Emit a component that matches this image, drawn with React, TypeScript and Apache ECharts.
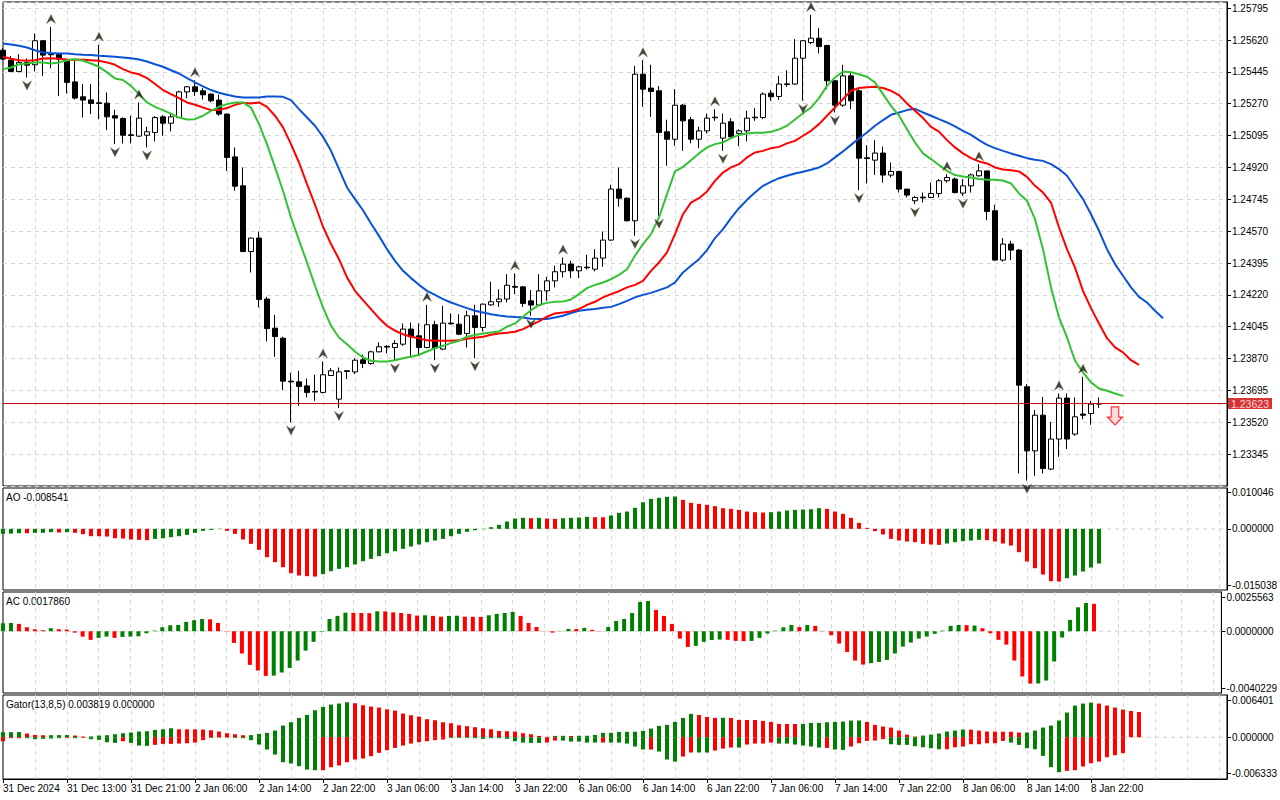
import React, { useEffect, useRef } from 'react';
import * as echarts from 'echarts';

const FONT = '"Liberation Sans", Arial, sans-serif';
const X_LABELS = ['31 Dec 2024', '31 Dec 13:00', '31 Dec 21:00', '2 Jan 06:00', '2 Jan 14:00', '2 Jan 22:00', '3 Jan 06:00', '3 Jan 14:00', '3 Jan 22:00', '6 Jan 06:00', '6 Jan 14:00', '6 Jan 22:00', '7 Jan 06:00', '7 Jan 14:00', '7 Jan 22:00', '8 Jan 06:00', '8 Jan 14:00', '8 Jan 22:00'];
const LABEL_STEP = 8;
const GRID_STEP = 4;
const SLOT_COUNT = 154;

const OPEN = [
  1.25564, 1.25509, 1.25447, 1.25497, 1.25484, 1.25616, 1.25542, 1.25540, 1.25506, 1.25390,
  1.25308, 1.25291, 1.25275, 1.25273, 1.25204, 1.25189, 1.25099, 1.25092, 1.25097, 1.25112,
  1.25198, 1.25163, 1.25194, 1.25335, 1.25363, 1.25341, 1.25323, 1.25290, 1.25213, 1.24978,
  1.24819, 1.24458, 1.24532, 1.24197, 1.24037, 1.23982, 1.23746, 1.23742, 1.23720, 1.23689,
  1.23684, 1.23777, 1.23647, 1.23803, 1.23797, 1.23863, 1.23843, 1.23907, 1.23937, 1.23931,
  1.23949, 1.24032, 1.23995, 1.23931, 1.24056, 1.23922, 1.24065, 1.24059, 1.24008, 1.24105,
  1.24041, 1.24165, 1.24182, 1.24197, 1.24266, 1.24264, 1.24187, 1.24164, 1.24242, 1.24297,
  1.24347, 1.24389, 1.24352, 1.24372, 1.24361, 1.24422, 1.24521, 1.24801, 1.24751, 1.24627,
  1.25432, 1.25356, 1.25341, 1.25116, 1.25075, 1.25262, 1.25182, 1.25075, 1.25121, 1.25196,
  1.25081, 1.25171, 1.25107, 1.25121, 1.25196, 1.25194, 1.25328, 1.25310, 1.25379, 1.25378,
  1.25520, 1.25606, 1.25630, 1.25590, 1.25396, 1.25262, 1.25423, 1.25341, 1.24973, 1.24960,
  1.24999, 1.24878, 1.24898, 1.24801, 1.24737, 1.24757, 1.24755, 1.24777, 1.24847, 1.24856,
  1.24779, 1.24819, 1.24874, 1.24901, 1.24682, 1.24411, 1.24499, 1.24466, 1.23715, 1.23363,
  1.23559, 1.23263, 1.23428, 1.23653, 1.23455, 1.23565, 1.23568, 1.23620,
];
const HIGH = [
  1.25575, 1.25533, 1.25542, 1.25519, 1.25656, 1.25619, 1.25692, 1.25548, 1.25509, 1.25506,
  1.25378, 1.25378, 1.25594, 1.25332, 1.25237, 1.25195, 1.25204, 1.25277, 1.25143, 1.25202,
  1.25207, 1.25216, 1.25341, 1.25368, 1.25399, 1.25356, 1.25326, 1.25319, 1.25216, 1.25030,
  1.24920, 1.24535, 1.24568, 1.24209, 1.24110, 1.23990, 1.23792, 1.23803, 1.23761, 1.23781,
  1.23854, 1.23818, 1.23821, 1.23807, 1.23872, 1.23891, 1.23913, 1.23959, 1.23944, 1.23971,
  1.24063, 1.24068, 1.24063, 1.24165, 1.24078, 1.24160, 1.24118, 1.24114, 1.24132, 1.24165,
  1.24173, 1.24292, 1.24251, 1.24334, 1.24338, 1.24268, 1.24246, 1.24334, 1.24319, 1.24380,
  1.24425, 1.24407, 1.24380, 1.24440, 1.24471, 1.24568, 1.24825, 1.24920, 1.24755, 1.25478,
  1.25509, 1.25484, 1.25367, 1.25182, 1.25350, 1.25268, 1.25198, 1.25143, 1.25216, 1.25240,
  1.25216, 1.25191, 1.25130, 1.25231, 1.25246, 1.25332, 1.25345, 1.25423, 1.25454, 1.25625,
  1.25619, 1.25758, 1.25685, 1.25594, 1.25399, 1.25484, 1.25442, 1.25356, 1.25042, 1.25070,
  1.25035, 1.24947, 1.24901, 1.24801, 1.24764, 1.24782, 1.24837, 1.24856, 1.24883, 1.24865,
  1.24856, 1.24887, 1.24938, 1.24901, 1.24715, 1.24532, 1.24517, 1.24471, 1.23730, 1.23587,
  1.23660, 1.23523, 1.23678, 1.23678, 1.23656, 1.23770, 1.23638, 1.23656,
];
const LOW = [
  1.25509, 1.25443, 1.25442, 1.25414, 1.25447, 1.25423, 1.25465, 1.25313, 1.25326, 1.25293,
  1.25194, 1.25213, 1.25185, 1.25125, 1.25048, 1.25052, 1.25052, 1.25088, 1.25030, 1.25063,
  1.25094, 1.25118, 1.25191, 1.25301, 1.25313, 1.25293, 1.25277, 1.25204, 1.24901, 1.24792,
  1.24455, 1.24343, 1.24151, 1.23964, 1.23880, 1.23697, 1.23519, 1.23611, 1.23656, 1.23638,
  1.23678, 1.23774, 1.23598, 1.23757, 1.23785, 1.23818, 1.23836, 1.23904, 1.23898, 1.23861,
  1.23940, 1.23885, 1.23885, 1.23926, 1.23861, 1.23916, 1.24056, 1.23999, 1.23931, 1.23872,
  1.24019, 1.24160, 1.24154, 1.24178, 1.24224, 1.24154, 1.24105, 1.24158, 1.24187, 1.24261,
  1.24316, 1.24312, 1.24312, 1.24359, 1.24349, 1.24374, 1.24517, 1.24704, 1.24623, 1.24544,
  1.25253, 1.25198, 1.24654, 1.24929, 1.25039, 1.25011, 1.25052, 1.25026, 1.25107, 1.25176,
  1.25011, 1.25081, 1.25037, 1.25063, 1.25176, 1.25185, 1.25286, 1.25291, 1.25363, 1.25374,
  1.25286, 1.25597, 1.25546, 1.25350, 1.25222, 1.25253, 1.25240, 1.24795, 1.24832, 1.24879,
  1.24836, 1.24865, 1.24782, 1.24755, 1.24718, 1.24728, 1.24751, 1.24755, 1.24837, 1.24777,
  1.24764, 1.24782, 1.24869, 1.24630, 1.24408, 1.24403, 1.24411, 1.23239, 1.23199, 1.23226,
  1.23239, 1.23257, 1.23330, 1.23373, 1.23446, 1.23537, 1.23506, 1.23598,
];
const CLOSE = [
  1.25515, 1.25447, 1.25497, 1.25482, 1.25616, 1.25537, 1.25539, 1.25515, 1.25387, 1.25301,
  1.25290, 1.25271, 1.25271, 1.25198, 1.25191, 1.25097, 1.25096, 1.25191, 1.25116, 1.25194,
  1.25163, 1.25198, 1.25335, 1.25363, 1.25337, 1.25319, 1.25286, 1.25213, 1.24975, 1.24817,
  1.24458, 1.24532, 1.24195, 1.24035, 1.23991, 1.23746, 1.23742, 1.23717, 1.23684, 1.23686,
  1.23781, 1.23803, 1.23797, 1.23799, 1.23861, 1.23843, 1.23907, 1.23935, 1.23933, 1.23953,
  1.24032, 1.23990, 1.23931, 1.24056, 1.23928, 1.24065, 1.24061, 1.24004, 1.24105, 1.24041,
  1.24169, 1.24182, 1.24197, 1.24273, 1.24262, 1.24173, 1.24164, 1.24242, 1.24297, 1.24347,
  1.24389, 1.24352, 1.24374, 1.24369, 1.24422, 1.24521, 1.24801, 1.24751, 1.24627, 1.25432,
  1.25350, 1.25337, 1.25112, 1.25075, 1.25262, 1.25176, 1.25075, 1.25121, 1.25191, 1.25193,
  1.25163, 1.25088, 1.25121, 1.25191, 1.25193, 1.25323, 1.25308, 1.25378, 1.25376, 1.25520,
  1.25616, 1.25630, 1.25584, 1.25396, 1.25262, 1.25423, 1.25286, 1.24971, 1.24969, 1.24999,
  1.24878, 1.24898, 1.24801, 1.24768, 1.24755, 1.24753, 1.24777, 1.24847, 1.24865, 1.24782,
  1.24819, 1.24879, 1.24901, 1.24678, 1.24411, 1.24499, 1.24466, 1.23724, 1.23363, 1.23559,
  1.23266, 1.23428, 1.23653, 1.23428, 1.23550, 1.23559, 1.23620, 1.23623,
];

// Alligator (already shifted forward: jaw 8, teeth 5, lips 3 bars)
const JAW = [
  1.25601, 1.25595, 1.25588, 1.25579, 1.25564, 1.25551, 1.25548, 1.25546, 1.25546, 1.25542,
  1.25539, 1.25537, 1.25533, 1.25531, 1.25528, 1.25524, 1.25520, 1.25513, 1.25502, 1.25487,
  1.25473, 1.25454, 1.25436, 1.25411, 1.25387, 1.25365, 1.25345, 1.25330, 1.25319, 1.25310,
  1.25304, 1.25304, 1.25304, 1.25310, 1.25310, 1.25308, 1.25290, 1.25240, 1.25194, 1.25149,
  1.25088, 1.25011, 1.24911, 1.24810, 1.24746, 1.24685, 1.24612, 1.24544, 1.24471, 1.24407,
  1.24352, 1.24312, 1.24275, 1.24242, 1.24220, 1.24197, 1.24178, 1.24162, 1.24147, 1.24133,
  1.24123, 1.24114, 1.24107, 1.24101, 1.24098, 1.24096, 1.24089, 1.24087, 1.24087, 1.24096,
  1.24105, 1.24120, 1.24133, 1.24138, 1.24142, 1.24149, 1.24154, 1.24169, 1.24187, 1.24206,
  1.24220, 1.24231, 1.24246, 1.24261, 1.24288, 1.24343, 1.24380, 1.24416, 1.24466, 1.24532,
  1.24581, 1.24642, 1.24696, 1.24742, 1.24782, 1.24819, 1.24841, 1.24861, 1.24874, 1.24887,
  1.24896, 1.24907, 1.24920, 1.24942, 1.24975, 1.25008, 1.25044, 1.25079, 1.25112, 1.25149,
  1.25180, 1.25209, 1.25222, 1.25235, 1.25242, 1.25222, 1.25204, 1.25185, 1.25167, 1.25145,
  1.25121, 1.25099, 1.25070, 1.25044, 1.25026, 1.25011, 1.24997, 1.24984, 1.24971, 1.24962,
  1.24956, 1.24938, 1.24911, 1.24874, 1.24810, 1.24746, 1.24663, 1.24572, 1.24471, 1.24389,
  1.24325, 1.24261, 1.24209, 1.24178, 1.24133, 1.24092,
];
const TEETH = [
  1.25528, 1.25517, 1.25509, 1.25506, 1.25509, 1.25518, 1.25520, 1.25517, 1.25513, 1.25511,
  1.25511, 1.25509, 1.25506, 1.25497, 1.25484, 1.25460, 1.25442, 1.25432, 1.25411, 1.25378,
  1.25345, 1.25323, 1.25301, 1.25277, 1.25264, 1.25249, 1.25235, 1.25235, 1.25246, 1.25264,
  1.25275, 1.25271, 1.25277, 1.25253, 1.25204, 1.25140, 1.25048, 1.24947, 1.24828, 1.24715,
  1.24594, 1.24499, 1.24416, 1.24316, 1.24242, 1.24191, 1.24142, 1.24092, 1.24050, 1.24023,
  1.24004, 1.23990, 1.23981, 1.23971, 1.23968, 1.23968, 1.23968, 1.23970, 1.23979, 1.23984,
  1.23990, 1.24001, 1.24008, 1.24012, 1.24017, 1.24032, 1.24054, 1.24074, 1.24100, 1.24118,
  1.24123, 1.24129, 1.24142, 1.24165, 1.24182, 1.24206, 1.24224, 1.24240, 1.24261, 1.24275,
  1.24297, 1.24352, 1.24398, 1.24453, 1.24554, 1.24663, 1.24727, 1.24751, 1.24788, 1.24846,
  1.24892, 1.24920, 1.24938, 1.24975, 1.25002, 1.25011, 1.25026, 1.25033, 1.25052, 1.25066,
  1.25094, 1.25121, 1.25158, 1.25204, 1.25249, 1.25295, 1.25341, 1.25356, 1.25361, 1.25363,
  1.25356, 1.25341, 1.25317, 1.25271, 1.25231, 1.25191, 1.25143, 1.25117, 1.25070, 1.25030,
  1.24997, 1.24971, 1.24953, 1.24942, 1.24920, 1.24909, 1.24905, 1.24898, 1.24868, 1.24819,
  1.24782, 1.24727, 1.24590, 1.24471, 1.24370, 1.24242, 1.24147, 1.24063, 1.23982, 1.23931,
  1.23904, 1.23861, 1.23836,
];
const LIPS = [
  1.25460, 1.25469, 1.25487, 1.25491, 1.25497, 1.25497, 1.25491, 1.25497, 1.25509, 1.25515,
  1.25506, 1.25491, 1.25473, 1.25442, 1.25409, 1.25400, 1.25368, 1.25323, 1.25277, 1.25253,
  1.25235, 1.25216, 1.25194, 1.25183, 1.25185, 1.25204, 1.25231, 1.25253, 1.25268, 1.25277,
  1.25277, 1.25249, 1.25158, 1.25048, 1.24920, 1.24792, 1.24645, 1.24521, 1.24398, 1.24270,
  1.24151, 1.24050, 1.23986, 1.23949, 1.23909, 1.23876, 1.23858, 1.23854, 1.23854, 1.23861,
  1.23872, 1.23880, 1.23891, 1.23909, 1.23927, 1.23940, 1.23955, 1.23968, 1.23990, 1.23999,
  1.24008, 1.24013, 1.24019, 1.24045, 1.24063, 1.24100, 1.24136, 1.24164, 1.24176, 1.24182,
  1.24184, 1.24195, 1.24224, 1.24257, 1.24275, 1.24288, 1.24306, 1.24330, 1.24361, 1.24435,
  1.24499, 1.24554, 1.24645, 1.24773, 1.24898, 1.24923, 1.24960, 1.24997, 1.25030, 1.25048,
  1.25057, 1.25081, 1.25099, 1.25107, 1.25110, 1.25110, 1.25116, 1.25129, 1.25149, 1.25183,
  1.25218, 1.25249, 1.25301, 1.25368, 1.25414, 1.25447, 1.25443, 1.25432, 1.25418, 1.25387,
  1.25323, 1.25258, 1.25204, 1.25130, 1.25057, 1.24997, 1.24966, 1.24933, 1.24901, 1.24878,
  1.24870, 1.24865, 1.24856, 1.24852, 1.24852, 1.24848, 1.24832, 1.24777, 1.24737, 1.24636,
  1.24471, 1.24261, 1.24096, 1.23986, 1.23858, 1.23794, 1.23739, 1.23706, 1.23693, 1.23678,
  1.23665,
];

const FRACTAL_UP = [6, 12, 17, 24, 40, 53, 64, 70, 80, 89, 101, 118, 122, 132, 135];
const FRACTAL_DOWN = [3, 14, 18, 36, 42, 49, 54, 59, 66, 79, 82, 90, 100, 104, 107, 114, 120, 128];
const SELL_SIGNAL = { index: 139, price: 1.23555 };

const AO = [
  -0.00123, -0.00115, -0.00107, -0.00108, -0.00098, -0.00097, -0.00082, -0.00090, -0.00083, -0.00098,
  -0.00131, -0.00180, -0.00182, -0.00189, -0.00230, -0.00238, -0.00262, -0.00271, -0.00279, -0.00246,
  -0.00230, -0.00205, -0.00180, -0.00148, -0.00098, -0.00049, -0.00025, -0.00008, -0.00049, -0.00123,
  -0.00262, -0.00369, -0.00517, -0.00697, -0.00820, -0.00943, -0.01091, -0.01148, -0.01164, -0.01173,
  -0.01115, -0.01041, -0.00984, -0.00943, -0.00877, -0.00795, -0.00738, -0.00672, -0.00599, -0.00549,
  -0.00492, -0.00435, -0.00385, -0.00328, -0.00287, -0.00246, -0.00180, -0.00123, -0.00074, -0.00033,
  -0.00008, 0.00041, 0.00098, 0.00180, 0.00254, 0.00271, 0.00262, 0.00270, 0.00254, 0.00246,
  0.00262, 0.00271, 0.00279, 0.00295, 0.00287, 0.00286, 0.00328, 0.00394, 0.00426, 0.00517,
  0.00656, 0.00738, 0.00763, 0.00787, 0.00795, 0.00713, 0.00640, 0.00615, 0.00590, 0.00558,
  0.00508, 0.00492, 0.00467, 0.00426, 0.00410, 0.00402, 0.00410, 0.00426, 0.00451, 0.00467,
  0.00476, 0.00484, 0.00508, 0.00492, 0.00426, 0.00369, 0.00271, 0.00148, 0.00025, -0.00057,
  -0.00139, -0.00246, -0.00287, -0.00312, -0.00328, -0.00369, -0.00385, -0.00394, -0.00361, -0.00328,
  -0.00303, -0.00287, -0.00271, -0.00279, -0.00312, -0.00361, -0.00410, -0.00574, -0.00804, -0.00968,
  -0.01123, -0.01287, -0.01296, -0.01214, -0.01148, -0.01050, -0.00951, -0.008541,
];
const AO_COLOR_RUNS: [string, number][] = [['g', 3], ['r', 1], ['g', 3], ['r', 1], ['g', 1], ['r', 10], ['g', 9], ['r', 12], ['g', 26], ['r', 1], ['g', 1], ['r', 2], ['g', 4], ['r', 2], ['g', 9], ['r', 11], ['g', 7], ['r', 15], ['g', 5], ['r', 10], ['g', 5]];

const AC = [
  0.00052, 0.00054, 0.00048, 0.00026, 0.00013, 0.00007, 0.00020, 0.00013, 0.00011, -0.00009,
  -0.00035, -0.00056, -0.00043, -0.00035, -0.00043, -0.00037, -0.00035, -0.00033, -0.00013, 0.00004,
  0.00026, 0.00039, 0.00041, 0.00061, 0.00072, 0.00080, 0.00078, 0.00054, -0.00002, -0.00076,
  -0.00145, -0.00219, -0.00256, -0.00291, -0.00289, -0.00269, -0.00239, -0.00191, -0.00126, -0.00069,
  -0.00004, 0.00080, 0.00100, 0.00121, 0.00120, 0.00119, 0.00118, 0.00130, 0.00129, 0.00123,
  0.00119, 0.00113, 0.00102, 0.00104, 0.00100, 0.00095, 0.00100, 0.00101, 0.00095, 0.00094,
  0.00093, 0.00104, 0.00113, 0.00119, 0.00126, 0.00100, 0.00054, 0.00028, 0.00002, -0.00009,
  0.00002, 0.00015, 0.00014, 0.00022, 0.00009, 0.00002, 0.00028, 0.00067, 0.00080, 0.00119,
  0.00191, 0.00197, 0.00139, 0.00100, 0.00048, -0.00048, -0.00102, -0.00095, -0.00069, -0.00057,
  -0.00054, -0.00056, -0.00063, -0.00065, -0.00063, -0.00043, -0.00015, 0.00004, 0.00026, 0.00041,
  0.00028, 0.00041, 0.00035, 0.00002, -0.00026, -0.00080, -0.00135, -0.00191, -0.00217, -0.00208,
  -0.00200, -0.00187, -0.00145, -0.00100, -0.00074, -0.00048, -0.00035, -0.00017, 0.00004, 0.00035,
  0.00041, 0.00040, 0.00037, 0.00020, -0.00013, -0.00056, -0.00087, -0.00191, -0.00295, -0.00341,
  -0.00340, -0.00321, -0.00197, -0.00041, 0.00074, 0.00156, 0.00184, 0.001786,
];
const AC_COLOR_RUNS: [string, number][] = [['g', 2], ['r', 4], ['g', 1], ['r', 5], ['g', 2], ['r', 1], ['g', 11], ['r', 8], ['g', 10], ['r', 3], ['g', 1], ['r', 5], ['g', 1], ['r', 2], ['g', 2], ['r', 3], ['g', 4], ['r', 5], ['g', 2], ['r', 1], ['g', 1], ['r', 2], ['g', 6], ['r', 5], ['g', 4], ['r', 3], ['g', 6], ['r', 1], ['g', 1], ['r', 7], ['g', 12], ['r', 1], ['g', 1], ['r', 7], ['g', 7], ['r', 1]];

const GATOR_UP = [
  0.00076, 0.00077, 0.00078, 0.00056, 0.00035, 0.00030, 0.00031, 0.00032, 0.00033, 0.00025,
  0.00010, 0.00012, 0.00025, 0.00030, 0.00045, 0.00061, 0.00071, 0.00086, 0.00091, 0.00111,
  0.00121, 0.00136, 0.00121, 0.00120, 0.00119, 0.00116, 0.00106, 0.00086, 0.00061, 0.00045,
  0.00030, 0.00032, 0.00051, 0.00066, 0.00101, 0.00177, 0.00227, 0.00293, 0.00338, 0.00409,
  0.00460, 0.00495, 0.00510, 0.00530, 0.00515, 0.00485, 0.00465, 0.00449, 0.00424, 0.00404,
  0.00359, 0.00333, 0.00313, 0.00273, 0.00258, 0.00227, 0.00212, 0.00182, 0.00167, 0.00152,
  0.00136, 0.00121, 0.00096, 0.00091, 0.00086, 0.00061, 0.00045, 0.00020, 0.00005, 0.00020,
  0.00021, 0.00019, 0.00021, 0.00022, 0.00035, 0.00066, 0.00067, 0.00081, 0.00082, 0.00083,
  0.00096, 0.00131, 0.00172, 0.00187, 0.00232, 0.00293, 0.00354, 0.00338, 0.00308, 0.00293,
  0.00295, 0.00292, 0.00263, 0.00262, 0.00261, 0.00247, 0.00232, 0.00202, 0.00201, 0.00200,
  0.00203, 0.00217, 0.00218, 0.00227, 0.00232, 0.00237, 0.00253, 0.00254, 0.00232, 0.00187,
  0.00162, 0.00146, 0.00101, 0.00040, 0.00010, 0.00025, 0.00040, 0.00056, 0.00086, 0.00101,
  0.00116, 0.00115, 0.00101, 0.00086, 0.00085, 0.00084, 0.00083, 0.00071, 0.00072, 0.00101,
  0.00146, 0.00177, 0.00253, 0.00374, 0.00480, 0.00510, 0.00525, 0.00510, 0.00480, 0.00449,
  0.00419, 0.00399, 0.003819,
];
const GATOR_UP_COLOR_RUNS: [string, number][] = [['g', 3], ['r', 3], ['g', 3], ['r', 2], ['g', 11], ['r', 9], ['g', 13], ['r', 25], ['g', 2], ['r', 1], ['g', 15], ['r', 3], ['g', 1], ['r', 9], ['g', 8], ['r', 7], ['g', 6], ['r', 7], ['g', 9], ['r', 6]];
const GATOR_DOWN = [
  -0.00061, -0.00015, -0.00015, -0.00015, -0.00030, -0.00025, -0.00020, -0.00015, -0.00010, -0.00015,
  -0.00010, -0.00030, -0.00040, -0.00076, -0.00086, -0.00061, -0.00086, -0.00126, -0.00131, -0.00116,
  -0.00101, -0.00101, -0.00096, -0.00091, -0.00081, -0.00045, -0.00010, -0.00005, -0.00005, -0.00010,
  -0.00015, -0.00045, -0.00111, -0.00187, -0.00263, -0.00379, -0.00399, -0.00439, -0.00490, -0.00500,
  -0.00500, -0.00455, -0.00429, -0.00379, -0.00338, -0.00323, -0.00288, -0.00237, -0.00197, -0.00162,
  -0.00126, -0.00096, -0.00076, -0.00061, -0.00045, -0.00035, -0.00010, -0.00010, -0.00010, -0.00015,
  -0.00025, -0.00015, -0.00015, -0.00025, -0.00061, -0.00081, -0.00086, -0.00086, -0.00081, -0.00051,
  -0.00051, -0.00066, -0.00066, -0.00081, -0.00081, -0.00081, -0.00081, -0.00081, -0.00096, -0.00141,
  -0.00187, -0.00187, -0.00217, -0.00338, -0.00369, -0.00293, -0.00232, -0.00232, -0.00232, -0.00202,
  -0.00172, -0.00157, -0.00157, -0.00111, -0.00096, -0.00096, -0.00081, -0.00096, -0.00096, -0.00111,
  -0.00126, -0.00141, -0.00157, -0.00162, -0.00187, -0.00192, -0.00141, -0.00091, -0.00056, -0.00051,
  -0.00030, -0.00106, -0.00116, -0.00116, -0.00136, -0.00152, -0.00167, -0.00182, -0.00182, -0.00152,
  -0.00141, -0.00106, -0.00106, -0.00091, -0.00091, -0.00056, -0.00081, -0.00116, -0.00167, -0.00182,
  -0.00283, -0.00455, -0.00530, -0.00510, -0.00500, -0.00444, -0.00394, -0.00369, -0.00303, -0.00273,
  -0.00242,
];
const GATOR_DOWN_COLOR_RUNS: [string, number][] = [['r', 3], ['g', 5], ['r', 1], ['g', 1], ['r', 1], ['g', 4], ['r', 1], ['g', 3], ['r', 7], ['g', 1], ['r', 2], ['g', 11], ['r', 16], ['g', 12], ['r', 2], ['g', 5], ['r', 1], ['g', 5], ['r', 1], ['g', 3], ['r', 2], ['g', 2], ['r', 3], ['g', 1], ['r', 4], ['g', 6], ['r', 1], ['g', 2], ['r', 5], ['g', 7], ['r', 8], ['g', 7], ['r', 8]];

// axis ranges and labels
const PRICE_MIN = 1.2317;
const PRICE_MAX = 1.258288;
const PRICE_STEP = 0.00175;
const AO_RANGE = [-0.015038, 0.010046];
const AC_RANGE = [-0.0040229, 0.0025563];
const GATOR_RANGE = [-0.006333, 0.006401];
const AO_LABELS = ['0.010046', '0.000000', '-0.015038'];
const AC_LABELS = ['0.0025563', '0.0000000', '-0.0040229'];
const GATOR_LABELS = ['0.006401', '0.000000', '-0.006333'];

const GREEN = '#008000';
const RED = '#ff0000';
const PRICE_RED = '#c00000';
const GRID_LINE = '#d6d6d6';

const expandRuns = (runs: [string, number][]) => runs.map(([c, n]) => c.repeat(n)).join('');

export default function App() {
  const ref = useRef<HTMLDivElement>(null);

  useEffect(() => {
    if (!ref.current) return;
    const chart = echarts.init(ref.current, undefined, { renderer: 'svg' });

    const cats = Array.from({ length: SLOT_COUNT }, (_, i) => String(i));
    const aoCol = expandRuns(AO_COLOR_RUNS);
    const acCol = expandRuns(AC_COLOR_RUNS);
    const guCol = expandRuns(GATOR_UP_COLOR_RUNS);
    const gdCol = expandRuns(GATOR_DOWN_COLOR_RUNS);
    const last = CLOSE[CLOSE.length - 1];
    const lastSlot = SLOT_COUNT - 1;

    const labelInterval = (idx: number) => idx % LABEL_STEP === 0 && idx / LABEL_STEP < X_LABELS.length;
    const gridInterval = (idx: number) => idx % GRID_STEP === 0 && idx > 0;
    const dashed = { color: GRID_LINE, type: [4, 4] as any, width: 1 };

    const grids = [
      { top: 2, height: 484 },
      { top: 488, height: 102 },
      { top: 592, height: 101 },
      { top: 695, height: 84 },
    ].map((g) => ({ left: 3, width: 1224, top: g.top, height: g.height, show: true, borderColor: '#000', borderWidth: 1, backgroundColor: 'transparent' }));

    const xAxes = [0, 1, 2, 3].map((k) => ({
      type: 'category',
      gridIndex: k,
      data: cats,
      boundaryGap: false,
      position: 'bottom',
      axisLine: { show: k === 3, onZero: false, lineStyle: { color: '#000' } },
      axisTick: { show: k === 3, interval: labelInterval, length: 4, lineStyle: { color: '#000' } },
      axisLabel: {
        show: k === 3,
        interval: labelInterval,
        formatter: (v: string) => {
          const i = Number(v);
          return i % LABEL_STEP === 0 ? X_LABELS[i / LABEL_STEP] ?? '' : '';
        },
        align: 'left',
        fontSize: 10,
        fontFamily: FONT,
        color: '#000',
        margin: 4,
      },
      splitLine: { show: true, interval: gridInterval, lineStyle: dashed },
    }));

    const subAxis = (k: number, range: number[], labels: string[], pxPerUnit: number, topInset: number, bottomInset: number) => {
      const custom = [range[1] - topInset / pxPerUnit, 0, range[0] + bottomInset / pxPerUnit];
      return {
        type: 'value',
        gridIndex: k,
        position: 'right',
        min: range[0],
        max: range[1],
        axisLine: { show: true, onZero: false, lineStyle: { color: '#000' } },
        axisTick: { show: true, customValues: custom, length: 4, lineStyle: { color: '#000' } },
        axisLabel: {
          customValues: custom,
          formatter: (v: number) => (v > 0 ? labels[0] : v < 0 ? labels[2] : labels[1]),
          fontSize: 10,
          fontFamily: FONT,
          color: '#000',
          margin: 5,
        },
        splitLine: { show: false },
      };
    };

    const yAxes = [
      {
        type: 'value',
        gridIndex: 0,
        position: 'right',
        min: PRICE_MIN,
        max: PRICE_MAX,
        interval: PRICE_STEP,
        axisLine: { show: true, onZero: false, lineStyle: { color: '#000' } },
        axisTick: { show: true, length: 4, lineStyle: { color: '#000' } },
        axisLabel: { showMinLabel: false, showMaxLabel: false, formatter: (v: number) => v.toFixed(5), fontSize: 10, fontFamily: FONT, color: '#000', margin: 5 },
        splitLine: { show: true, lineStyle: dashed },
      },
      subAxis(1, AO_RANGE, AO_LABELS, 102 / (AO_RANGE[1] - AO_RANGE[0]), 4, 5),
      subAxis(2, AC_RANGE, AC_LABELS, 101 / (AC_RANGE[1] - AC_RANGE[0]), 5, 5),
      subAxis(3, GATOR_RANGE, GATOR_LABELS, 84 / (GATOR_RANGE[1] - GATOR_RANGE[0]), 5, 6),
    ];

    // horizontal level line across the whole pane (zero lines, bid line)
    const levelLine = (axis: number, value: number, color: string, type: any, z: number) => ({
      type: 'line',
      xAxisIndex: axis,
      yAxisIndex: axis,
      data: [[0, value], [lastSlot, value]],
      symbol: 'none',
      silent: true,
      color,
      lineStyle: { color, width: 1, type },
      z,
    });

    const colorBy = (codes: string) => (p: any) => (codes[p.dataIndex] === 'g' ? GREEN : RED);

    const upArrow = 'path://M5,0 L10,10 L5,6.5 L0,10 Z';
    const downArrow = 'path://M0,0 L5,3.5 L10,0 L5,10 Z';
    const sellArrow = 'path://M3,0 L9,0 L9,9 L12,9 L6,16 L0,9 L3,9 Z';

    const option: any = {
      animation: false,
      backgroundColor: '#fff',
      textStyle: { fontFamily: FONT },
      grid: grids,
      xAxis: xAxes,
      yAxis: yAxes,
      series: [
        {
          type: 'candlestick',
          xAxisIndex: 0,
          yAxisIndex: 0,
          barWidth: 5,
          data: OPEN.map((o, i) => [o, CLOSE[i], LOW[i], HIGH[i]]),
          itemStyle: { color: '#ffffff', color0: '#000000', borderColor: '#000000', borderColor0: '#000000', borderWidth: 1 },
        },
        { type: 'line', name: 'Jaw', xAxisIndex: 0, yAxisIndex: 0, data: JAW, symbol: 'none', lineStyle: { color: '#0a52d6', width: 2 } },
        { type: 'line', name: 'Teeth', xAxisIndex: 0, yAxisIndex: 0, data: TEETH, symbol: 'none', lineStyle: { color: '#ff0000', width: 2 } },
        { type: 'line', name: 'Lips', xAxisIndex: 0, yAxisIndex: 0, data: LIPS, symbol: 'none', lineStyle: { color: '#33c233', width: 2 } },
        levelLine(0, last, PRICE_RED, 'solid', 4),
        {
          type: 'scatter',
          name: 'Bid label',
          xAxisIndex: 0,
          yAxisIndex: 0,
          data: [[lastSlot, last]],
          clip: false,
          silent: true,
          symbol: 'rect',
          symbolSize: [44, 11],
          symbolOffset: [23, 0],
          itemStyle: { color: '#cc0000' },
          label: {
            show: true,
            position: 'inside',
            formatter: last.toFixed(5),
            color: '#ffffff',
            fontSize: 10.5,
            fontFamily: FONT,
          },
          z: 6,
        },
        {
          type: 'scatter',
          xAxisIndex: 0,
          yAxisIndex: 0,
          data: FRACTAL_UP.map((i) => [i, HIGH[i]]),
          symbol: upArrow,
          symbolSize: [9, 9],
          symbolOffset: [0, -8],
          itemStyle: { color: '#151515', borderColor: '#6b5a30', borderWidth: 0.5 },
          z: 5,
        },
        {
          type: 'scatter',
          xAxisIndex: 0,
          yAxisIndex: 0,
          data: FRACTAL_DOWN.map((i) => [i, LOW[i]]),
          symbol: downArrow,
          symbolSize: [9, 9],
          symbolOffset: [0, 8],
          itemStyle: { color: '#151515', borderColor: '#6b5a30', borderWidth: 0.5 },
          z: 5,
        },
        {
          type: 'scatter',
          xAxisIndex: 0,
          yAxisIndex: 0,
          data: [[SELL_SIGNAL.index, SELL_SIGNAL.price]],
          symbol: sellArrow,
          symbolSize: [15, 18],
          itemStyle: { color: '#ffd0d0', borderColor: '#ff0000', borderWidth: 1.2 },
          z: 5,
        },
        levelLine(1, 0, '#cfcfcf', [4, 4], 1),
        levelLine(2, 0, '#cfcfcf', [4, 4], 1),
        levelLine(3, 0, '#cfcfcf', [4, 4], 1),
        {
          type: 'bar',
          xAxisIndex: 1,
          yAxisIndex: 1,
          data: AO,
          barWidth: 4,
          itemStyle: { color: colorBy(aoCol) },
        },
        {
          type: 'bar',
          xAxisIndex: 2,
          yAxisIndex: 2,
          data: AC,
          barWidth: 4,
          itemStyle: { color: colorBy(acCol) },
        },
        {
          type: 'bar',
          xAxisIndex: 3,
          yAxisIndex: 3,
          data: GATOR_UP,
          barWidth: 4,
          barGap: '-100%',
          itemStyle: { color: colorBy(guCol) },
        },
        {
          type: 'bar',
          xAxisIndex: 3,
          yAxisIndex: 3,
          data: GATOR_DOWN,
          barWidth: 4,
          barGap: '-100%',
          itemStyle: { color: colorBy(gdCol) },
        },
      ],
      graphic: [
        { type: 'text', left: 6, top: 492, style: { text: `AO ${AO[AO.length - 1].toFixed(6)}`, fontSize: 10, fontFamily: FONT, fill: '#000' } },
        { type: 'text', left: 6, top: 596, style: { text: `AC ${AC[AC.length - 1].toFixed(7)}`, fontSize: 10, fontFamily: FONT, fill: '#000' } },
        { type: 'text', left: 6, top: 699, style: { text: `Gator(13,8,5) ${GATOR_UP[GATOR_UP.length - 1].toFixed(6)} ${(0).toFixed(6)}`, fontSize: 10, fontFamily: FONT, fill: '#000' } },
      ],
    };

    chart.setOption(option);
    return () => chart.dispose();
  }, []);

  return <div ref={ref} style={{ position: 'fixed', left: 0, top: 0, width: 1280, height: 800, background: '#fff' }} />;
}
